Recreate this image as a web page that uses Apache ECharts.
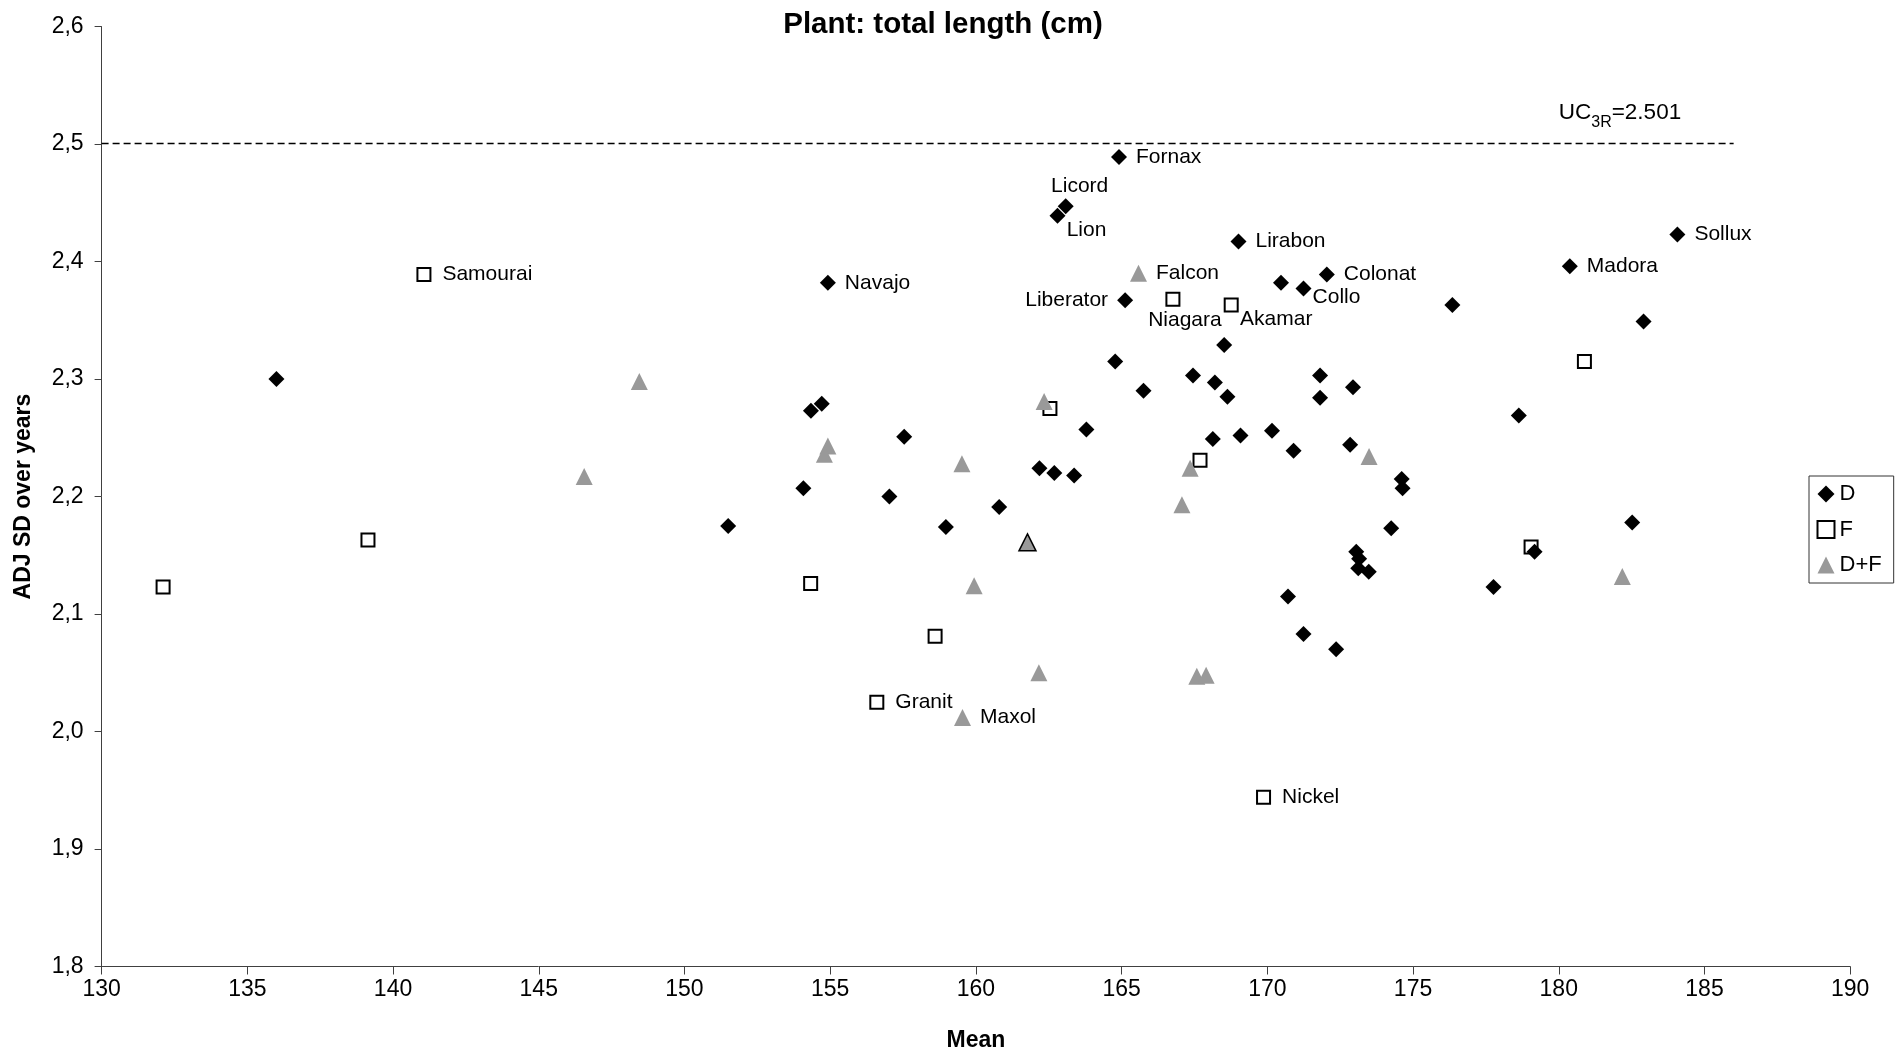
<!DOCTYPE html>
<html><head><meta charset="utf-8">
<script src="https://cdn.jsdelivr.net/npm/echarts@6/dist/echarts.min.js"></script>
<style>html,body{margin:0;padding:0;background:#fff}#c{width:1896px;height:1057px}</style>
</head><body><div id="c"></div>
<script>
// ---- data ----
const title = 'Plant: total length (cm)';
const xName = 'Mean';
const yName = 'ADJ SD over years';
const seriesNames = ['D', 'F', 'D+F'];

const dX = [136.0,164.91,163.08,162.80,154.92,165.12,164.78,165.75,154.71,154.34,157.54,163.79,162.18,162.69,163.37,154.08,157.03,151.50,160.80,158.97,169.01,170.47,171.24,172.04,176.35,180.38,168.52,167.45,168.20,168.63,171.81,171.81,172.94,178.63,168.13,169.08,170.16,170.90,172.84,174.61,174.64,174.25,173.05,173.15,173.12,173.48,179.17,177.76,170.71,171.24,172.36,184.07,182.91,182.52];
const dY = [2.300,2.489,2.447,2.439,2.382,2.367,2.315,2.290,2.279,2.273,2.251,2.257,2.224,2.220,2.218,2.207,2.200,2.175,2.191,2.174,2.417,2.382,2.377,2.389,2.363,2.396,2.329,2.303,2.297,2.285,2.303,2.284,2.293,2.269,2.249,2.252,2.256,2.239,2.244,2.215,2.207,2.173,2.153,2.147,2.139,2.136,2.153,2.123,2.115,2.083,2.070,2.423,2.349,2.178];
const dNames = ['','Fornax','Licord','Lion','Navajo','Liberator','','','','','','','','','','','','','','','Lirabon','','Collo','Colonat','','Madora','','','','','','','','','','','','','','','','','','','','','','','','','','Sollux','',''];

const fX = [141.06,139.14,132.11,162.54,154.33,158.60,156.60,166.76,168.76,180.88,167.69,179.05,169.87];
const fY = [2.389,2.163,2.123,2.275,2.126,2.081,2.025,2.368,2.363,2.315,2.231,2.157,1.944];
const fNames = ['Samourai','','','','','','Granit','Niagara','Akamar','','','','Nickel'];

const dfX = [148.45,146.56,154.92,154.80,159.52,162.34,161.77,159.94,162.16,159.54,165.58,173.49,167.35,167.07,167.58,167.90,182.18];
const dfY = [2.298,2.217,2.243,2.236,2.228,2.281,2.161,2.124,2.050,2.012,2.390,2.234,2.224,2.193,2.047,2.048,2.132];
const dfNames = ['','','','','','','','','','Maxol','Falcon','','','','','',''];

const ucValue = 2.501;
const ucLineX = [130, 186];
const ucLabelX = 180;

// ---- styles / label placement ----
const FONT = 'Liberation Sans, Arial, sans-serif';
const customLabel = {
  Licord:   {position: 'inside', offset: [14, -20]},
  Lion:     {position: 'inside', offset: [29, 14]},
  Liberator:{position: 'left', distance: 9},
  Collo:    {position: 'inside', offset: [33, 9]},
  Niagara:  {position: 'inside', offset: [12, 21]},
  Akamar:   {position: 'inside', offset: [45, 14]}
};
const specialStyle = {DF6: {borderColor: '#000', borderWidth: 1.5}};

function build(xs, ys, names, dist, key) {
  return xs.map((x, i) => {
    const item = {value: [x, ys[i]], name: names[i] || ''};
    if (names[i]) {
      const c = customLabel[names[i]] || {position: 'right', distance: dist};
      item.label = Object.assign({show: true, formatter: names[i], color: '#000', fontSize: 21, fontFamily: FONT}, c);
    }
    if (specialStyle[key + i]) item.itemStyle = specialStyle[key + i];
    return item;
  });
}

const chart = echarts.init(document.getElementById('c'), null, {renderer: 'canvas'});
chart.setOption({
  backgroundColor: '#fff',
  animation: false,
  title: {
    text: title, left: 938, top: 5, textAlign: 'center',
    textStyle: {fontSize: 29.5, fontWeight: 'bold', fontFamily: FONT, color: '#000'}
  },
  grid: {left: 101.6, right: 45.8, top: 26.6, bottom: 89.6, containLabel: false},
  legend: {
    orient: 'vertical', left: 1809, top: 476,
    data: seriesNames,
    itemWidth: 17, itemHeight: 17, itemGap: 13.5,
    padding: [7, 12, 7, 7.5],
    borderColor: '#333', borderWidth: 1, borderRadius: 0,
    textStyle: {fontSize: 22, lineHeight: 22, fontFamily: FONT, color: '#000'}
  },
  xAxis: {
    type: 'value', min: 130, max: 190, interval: 5,
    name: xName, nameLocation: 'middle', nameGap: 74,
    nameTextStyle: {fontSize: 23, fontWeight: 'bold', fontFamily: FONT, color: '#000', verticalAlign: 'middle'},
    axisLine: {show: true, onZero: false, lineStyle: {color: '#404040', width: 1}},
    axisTick: {show: true, length: 8, lineStyle: {color: '#404040'}},
    axisLabel: {fontSize: 23, fontFamily: FONT, color: '#000', margin: 12},
    splitLine: {show: false}
  },
  yAxis: {
    type: 'value', min: 1.8, max: 2.6, interval: 0.1,
    name: yName, nameLocation: 'middle', nameGap: 78, nameRotate: 90,
    nameTextStyle: {fontSize: 23, fontWeight: 'bold', fontFamily: FONT, color: '#000', verticalAlign: 'middle', align: 'center'},
    axisLine: {show: true, onZero: false, lineStyle: {color: '#404040', width: 1}},
    axisTick: {show: true, length: 7, lineStyle: {color: '#404040'}},
    axisLabel: {fontSize: 23, fontFamily: FONT, color: '#000', margin: 18,
      formatter: v => v.toFixed(1).replace('.', ',')},
    splitLine: {show: false}
  },
  series: [
    {
      name: 'D', type: 'scatter', z: 3, symbol: 'diamond', symbolSize: 16,
      itemStyle: {color: '#000', opacity: 1},
      data: build(dX, dY, dNames, 9, 'D')
    },
    {
      name: 'F', type: 'scatter', z: 2, symbol: 'rect', symbolSize: 13,
      itemStyle: {color: '#fff', borderColor: '#000', borderWidth: 2, opacity: 1},
      data: build(fX, fY, fNames, 11, 'F')
    },
    {
      name: 'D+F', type: 'scatter', z: 4, symbol: 'triangle', symbolSize: 17,
      itemStyle: {color: '#999999', opacity: 1},
      data: build(dfX, dfY, dfNames, 9, 'DF')
    },
    {
      name: 'UC', type: 'line', data: [], silent: true,
      markLine: {
        silent: true, symbol: ['none', 'none'],
        lineStyle: {color: '#000', type: [7, 4], width: 1.3},
        label: {show: false},
        data: [[{coord: [ucLineX[0], ucValue]}, {coord: [ucLineX[1], ucValue]}]]
      },
      markPoint: {
        silent: true, symbol: 'circle', symbolSize: 0,
        data: [{coord: [ucLabelX, ucValue]}],
        label: {
          show: true, position: 'right', distance: 0, offset: [0, -30],
          formatter: '{a|UC}{b|3R}{a|=' + String(ucValue) + '}',
          rich: {
            a: {fontSize: 22.5, fontFamily: FONT, color: '#000', lineHeight: 25},
            b: {fontSize: 16, fontFamily: FONT, color: '#000', verticalAlign: 'bottom', padding: [19, 0, 0, 0]}
          }
        }
      }
    }
  ]
});
</script>
</body></html>
